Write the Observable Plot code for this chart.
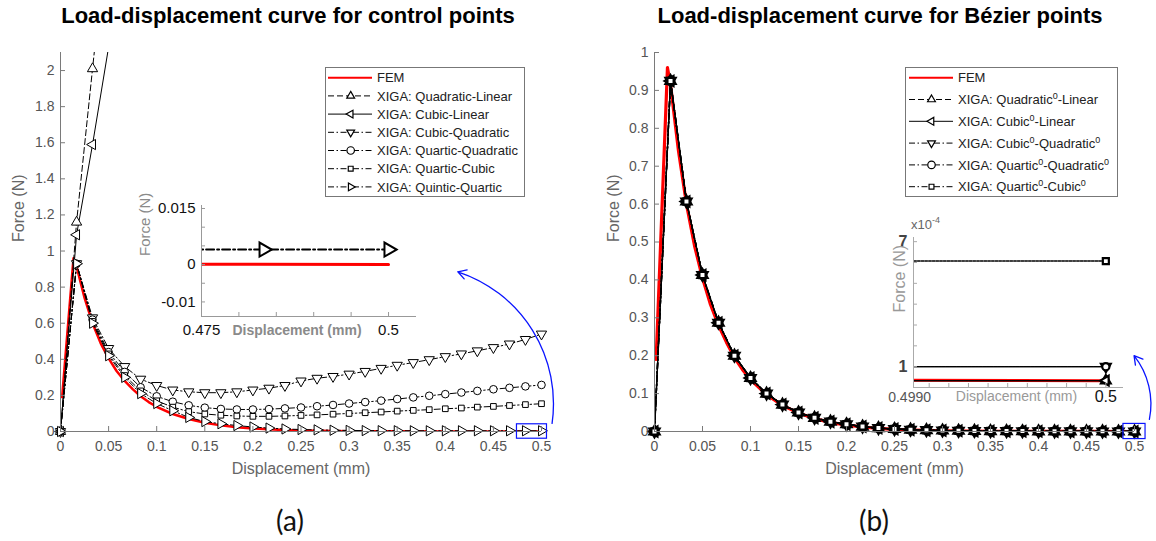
<!DOCTYPE html>
<html><head><meta charset="utf-8">
<script src="https://cdn.jsdelivr.net/npm/d3@7"></script>
<script src="https://cdn.jsdelivr.net/npm/@observablehq/plot@0.6"></script>
<style>
body{margin:0;background:#fff;}
#root{position:relative;width:1156px;height:541px;overflow:hidden;background:#fff;font-family:"Liberation Sans",Arial,sans-serif;}
.title{position:absolute;font-weight:bold;font-size:22px;line-height:22px;color:#000;white-space:nowrap;transform:translateX(-50%);}
.cap{position:absolute;font-family:Lato,"Open Sans",sans-serif;font-size:28px;line-height:28px;color:#111;transform:translateX(-50%);}
</style></head>
<body><div id="root"></div>
<script>
// ---------------- DATA ----------------
const xGrid = [0, 0.0167, 0.0333, 0.05, 0.0667, 0.0833, 0.1, 0.1167, 0.1333, 0.15, 0.1667, 0.1833, 0.2, 0.2167, 0.2333, 0.25, 0.2667, 0.2833, 0.3, 0.3167, 0.3333, 0.35, 0.3667, 0.3833, 0.4, 0.4167, 0.4333, 0.45, 0.4667, 0.4833, 0.5];

const femX = [0.0017, 0.0135, 0.0167, 0.025, 0.0333, 0.0417, 0.05, 0.0583, 0.0667, 0.075, 0.0833, 0.0917, 0.1, 0.1167, 0.1333, 0.15, 0.1667, 0.1833, 0.2, 0.2167, 0.2333, 0.25, 0.2667, 0.2833, 0.3, 0.35, 0.4, 0.45, 0.5];
const femY = [0.19, 0.96, 0.915, 0.74, 0.6, 0.49, 0.405, 0.335, 0.28, 0.235, 0.195, 0.163, 0.137, 0.097, 0.069, 0.049, 0.034, 0.024, 0.017, 0.012, 0.008, 0.0055, 0.004, 0.003, 0.002, 0.0007, 0.0002, 0.0001, 0.000033];

// (a) control points
const cpQuadLin = [0, 1.16, 2.01, 2.85];
const cpCubLin = [0, 1.09, 1.59, 2.13, 2.65];
const cpCubQuad = [0, 0.93, 0.63, 0.46, 0.36, 0.29, 0.255, 0.23, 0.22, 0.215, 0.215, 0.22, 0.23, 0.24, 0.255, 0.28, 0.295, 0.305, 0.318, 0.333, 0.35, 0.367, 0.382, 0.398, 0.415, 0.43, 0.447, 0.465, 0.485, 0.51, 0.54];
const cpQuartQuad = [0, 0.93, 0.62, 0.44, 0.33, 0.245, 0.195, 0.165, 0.145, 0.132, 0.125, 0.122, 0.122, 0.124, 0.128, 0.133, 0.14, 0.147, 0.155, 0.163, 0.171, 0.18, 0.189, 0.198, 0.207, 0.216, 0.225, 0.234, 0.242, 0.25, 0.258];
const cpQuartCub = [0, 0.93, 0.61, 0.43, 0.31, 0.225, 0.17, 0.135, 0.11, 0.097, 0.09, 0.086, 0.084, 0.084, 0.086, 0.089, 0.092, 0.096, 0.1, 0.104, 0.108, 0.113, 0.117, 0.121, 0.126, 0.13, 0.135, 0.139, 0.144, 0.149, 0.154];
const cpQuintQuart = [0, 0.93, 0.6, 0.42, 0.3, 0.21, 0.155, 0.115, 0.078, 0.055, 0.043, 0.033, 0.025, 0.019, 0.014, 0.011, 0.009, 0.007, 0.006, 0.005, 0.0045, 0.0042, 0.004, 0.004, 0.004, 0.004, 0.004, 0.004, 0.004, 0.004, 0.004];

// (b) Bezier points
const bzQuadLin = [0, 0.925, 0.607, 0.413, 0.287, 0.2, 0.141, 0.1, 0.071, 0.05, 0.036, 0.026, 0.019, 0.013, 0.009, 0.0065, 0.0048, 0.0035, 0.0026, 0.0019, 0.0014, 0.001, 0.0008, 0.0006, 0.00045, 0.0003, 0.0002, 0.00012, 0.00006, 0.000033, 0.000033];
const bzCubLin = [0, 0.925, 0.607, 0.413, 0.287, 0.2, 0.141, 0.1, 0.071, 0.05, 0.036, 0.026, 0.019, 0.013, 0.009, 0.0065, 0.0048, 0.0035, 0.0026, 0.0019, 0.0014, 0.001, 0.0008, 0.0006, 0.00045, 0.0003, 0.0002, 0.00012, 0.00006, 0.000033, 0.000033];
const bzCubQuad = [0, 0.925, 0.607, 0.413, 0.287, 0.2, 0.141, 0.1, 0.071, 0.05, 0.036, 0.026, 0.019, 0.013, 0.009, 0.0065, 0.0048, 0.0035, 0.0026, 0.0019, 0.0014, 0.0011, 0.0009, 0.0007, 0.00055, 0.0004, 0.0003, 0.0002, 0.00014, 0.0001, 0.0001];
const bzQuartQuad = [0, 0.925, 0.607, 0.413, 0.287, 0.2, 0.141, 0.1, 0.071, 0.05, 0.036, 0.026, 0.019, 0.013, 0.009, 0.0065, 0.0048, 0.0035, 0.0026, 0.0019, 0.0014, 0.0011, 0.0009, 0.0007, 0.00055, 0.0004, 0.0003, 0.0002, 0.00014, 0.0001, 0.0001];
const bzQuartCub = [0, 0.925, 0.607, 0.413, 0.287, 0.2, 0.141, 0.1, 0.071, 0.05, 0.036, 0.026, 0.019, 0.013, 0.009, 0.0065, 0.0048, 0.0035, 0.0026, 0.0019, 0.0014, 0.0014, 0.0012, 0.0011, 0.001, 0.0009, 0.0008, 0.0007, 0.00064, 0.000607, 0.000607];

const ctrlNames = ["XIGA: Quadratic-Linear", "XIGA: Cubic-Linear", "XIGA: Cubic-Quadratic", "XIGA: Quartic-Quadratic", "XIGA: Quartic-Cubic", "XIGA: Quintic-Quartic"];
const bezNames = ["XIGA: Quadratic^0-Linear", "XIGA: Cubic^0-Linear", "XIGA: Cubic^0-Quadratic^0", "XIGA: Quartic^0-Quadratic^0", "XIGA: Quartic^0-Cubic^0"];
const femName = "FEM";

const xTicksMain = [0, 0.05, 0.1, 0.15, 0.2, 0.25, 0.3, 0.35, 0.4, 0.45, 0.5];
const yTicksA = [0, 0.2, 0.4, 0.6, 0.8, 1, 1.2, 1.4, 1.6, 1.8, 2];
const yTicksB = [0, 0.1, 0.2, 0.3, 0.4, 0.5, 0.6, 0.7, 0.8, 0.9, 1];
const insetAxTicks = [0.475, 0.48, 0.485, 0.49, 0.495, 0.5];
const insetAxLabels = [{v: 0.475, t: "0.475"}, {v: 0.5, t: "0.5"}];
const insetAyTicks = [-0.01, -0.005, 0, 0.005, 0.01, 0.015];
const insetAyLabels = [-0.01, 0, 0.015];
const insetBxTicks = [0.4991, 0.4992, 0.4993, 0.4994, 0.4995, 0.4996, 0.4997, 0.4998, 0.4999, 0.5];
const insetByTicks = [0.0001, 0.0002, 0.0003, 0.0004, 0.0005, 0.0006, 0.0007];
const insetByLabels = [{v: 0.0001, t: "1"}, {v: 0.0007, t: "7"}];

const zoomBoxA = [{x1: 0.4745, x2: 0.5057, y1: -0.04, y2: 0.04}];
const zoomArrowA = [{x1: 0.511, y1: 0.045, x2: 0.413, y2: 0.885}];
const zoomBoxB = [{x1: 0.4885, x2: 0.5115, y1: -0.02, y2: 0.02}];
const zoomArrowB = [{x1: 0.5155, y1: 0.032, x2: 0.4995, y2: 0.2}];

// ---------------- STYLE ----------------
const RED = "#ff0000", BLUE = "#0a14ff", AX = "#7a7a7a", TXT = "#555";
const DD = "6,2.5,1.5,2.5";
const ctrlStyle = [
  {symbol: "triangle", rotate: 0, dash: "6,3"},
  {symbol: "triangle", rotate: -90, dash: null},
  {symbol: "triangle", rotate: 180, dash: DD},
  {symbol: "circle", rotate: 0, dash: DD},
  {symbol: "square", rotate: 0, dash: DD},
  {symbol: "triangle", rotate: 90, dash: DD}
];
const bezStyle = [
  {symbol: "triangle", rotate: 0, dash: "6,3"},
  {symbol: "triangle", rotate: -90, dash: null},
  {symbol: "triangle", rotate: 180, dash: DD},
  {symbol: "circle", rotate: 0, dash: DD},
  {symbol: "square", rotate: 0, dash: DD}
];
const ctrlSeries = [cpQuadLin, cpCubLin, cpCubQuad, cpQuartQuad, cpQuartCub, cpQuintQuart]
  .map((y, i) => ({y, name: ctrlNames[i], ...ctrlStyle[i]}));
const bezSeries = [bzQuadLin, bzCubLin, bzCubQuad, bzQuartQuad, bzQuartCub]
  .map((y, i) => ({y, name: bezNames[i], ...bezStyle[i]}));
const femRows = femX.map((x, i) => ({x, y: femY[i]}));
const rowsOf = ys => ys.map((v, i) => ({x: xGrid[i], y: v}));

const root = document.getElementById("root");
function place(el, left, top) {
  el.style.position = "absolute"; el.style.left = left + "px"; el.style.top = top + "px";
  root.appendChild(el); return el;
}
const baseStyle = {fontFamily: "'Liberation Sans', Arial, sans-serif", fontSize: "14px", color: TXT, background: "transparent", overflow: "visible"};

function seriesMarks(series, o) {
  const m = [];
  for (const s of series) m.push(Plot.line(rowsOf(s.y), {x: "x", y: "y", stroke: "#000", strokeWidth: o.lineW, strokeDasharray: o.dash ? (o.dash(s) ?? undefined) : (s.dash ?? undefined), clip: true}));
  for (const s of series) m.push(Plot.dot(rowsOf(s.y).filter(o.filter), {x: "x", y: "y", symbol: s.symbol, rotate: s.rotate, r: s.symbol === "square" ? o.rs : o.r, stroke: "#000", fill: "#fff", strokeWidth: o.dotW, clip: o.clip}));
  return m;
}

function axesMarks(xT, yT, x0, y0, yLblDx) {
  return [
    Plot.ruleY([y0], {stroke: AX}),
    Plot.ruleX([x0], {stroke: AX}),
    Plot.ruleX(xT, {x: d => d, y1: () => y0, y2: () => y0, insetTop: -5, stroke: AX}),
    Plot.ruleY(yT, {y: d => d, x1: () => x0, x2: () => x0, insetRight: -5, stroke: AX}),
    Plot.axisX({ticks: xT, tickSize: 0, tickPadding: 10, tickFormat: d => String(d), fontSize: 14, label: null}),
    Plot.axisY({ticks: yT, tickSize: 0, tickPadding: 6, tickFormat: d => String(d), fontSize: 14, label: null}),
    Plot.text(["Displacement (mm)"], {text: d => d, frameAnchor: "bottom", dy: 42, fontSize: 16, fill: "#666"}),
    Plot.text(["Force (N)"], {text: d => d, frameAnchor: "left", dx: yLblDx, rotate: -90, fontSize: 16, fill: "#666"})
  ];
}

// ---------------- (a) main ----------------
const plotA = Plot.plot({
  width: 594, height: 490, marginLeft: 60, marginRight: 53, marginTop: 52, marginBottom: 59,
  x: {domain: [0, 0.5]}, y: {domain: [0, 2.1]}, style: baseStyle,
  marks: [
    Plot.line(femRows, {x: "x", y: "y", stroke: RED, strokeWidth: 2.5, clip: true}),
    ...seriesMarks(ctrlSeries, {lineW: 1, r: 3.8, rs: 3.2, dotW: 1, clip: false, filter: d => d.y <= 2.1}),
    ...axesMarks(xTicksMain, yTicksA, 0, 0, -42),
    Plot.rect(zoomBoxA, {x1: "x1", x2: "x2", y1: "y1", y2: "y2", stroke: BLUE, fill: "none", strokeWidth: 1.2}),
    Plot.arrow(zoomArrowA, {x1: "x1", y1: "y1", x2: "x2", y2: "y2", bend: -40, stroke: BLUE, strokeWidth: 1.3, headLength: 11})
  ]
});
place(plotA, 0, 0);

// ---------------- (b) main ----------------
const plotB = Plot.plot({
  width: 562, height: 490, marginLeft: 60, marginRight: 22, marginTop: 52, marginBottom: 59,
  x: {domain: [0, 0.5]}, y: {domain: [0, 1]}, style: baseStyle,
  marks: [
    Plot.line(femRows, {x: "x", y: "y", stroke: RED, strokeWidth: 3.2, clip: true}),
    ...seriesMarks(bezSeries, {lineW: 1.4, r: 3.8, rs: 3.5, dotW: 2.2, clip: false, filter: () => true}),
    ...axesMarks(xTicksMain, yTicksB, 0, 0, -41),
    Plot.rect(zoomBoxB, {x1: "x1", x2: "x2", y1: "y1", y2: "y2", stroke: BLUE, fill: "none", strokeWidth: 1.2}),
    Plot.arrow(zoomArrowB, {x1: "x1", y1: "y1", x2: "x2", y2: "y2", bend: -25, stroke: BLUE, strokeWidth: 1.3, headLength: 11})
  ]
});
place(plotB, 594, 0);

// ---------------- (a) inset ----------------
const iaX = [0.475, 0.50374], iaY = [-0.0139, 0.0158];
const insetA = Plot.plot({
  width: 300, height: 150, marginLeft: 71, marginRight: 14, marginTop: 15, marginBottom: 24,
  x: {domain: iaX, axis: null}, y: {domain: iaY, axis: null}, style: {...baseStyle, color: "#111"},
  marks: [
    Plot.line(femRows, {x: "x", y: "y", stroke: RED, strokeWidth: 3, clip: true}),
    ...seriesMarks(ctrlSeries, {lineW: 2, r: 5.2, rs: 4, dotW: 2, clip: true, filter: () => true, dash: s => s.dash ? "8,3,2,3" : null}),
    Plot.ruleY([iaY[0]], {stroke: "#999"}),
    Plot.ruleX([iaX[0]], {stroke: "#999"}),
    Plot.ruleX(insetAxTicks, {x: d => d, y1: () => iaY[0], y2: () => iaY[0], insetTop: -4, stroke: "#999"}),
    Plot.ruleY(insetAyTicks, {y: d => d, x1: () => iaX[0], x2: () => iaX[0], insetRight: -4, stroke: "#999"}),
    Plot.text(insetAyLabels, {y: d => d, text: d => String(d), frameAnchor: "left", dx: -6, textAnchor: "end", fontSize: 15, fill: "#111"}),
    Plot.text(insetAxLabels, {x: "v", text: "t", frameAnchor: "bottom", dy: 18, fontSize: 15, fill: "#111"}),
    Plot.text(["Displacement (mm)"], {text: d => d, frameAnchor: "bottom", dy: 18, dx: -12, fontSize: 14, fontWeight: "bold", fill: "#8a8a8a"}),
    Plot.text(["Force (N)"], {text: d => d, frameAnchor: "left", dx: -56, dy: -5, rotate: -90, fontSize: 15, fill: "#8a8a8a"})
  ]
});
place(insetA, 130, 190);

// ---------------- (b) inset ----------------
const ibX = [0.49902, 0.50009], ibY = [0, 0.00072];
const insetB = Plot.plot({
  width: 270, height: 215, marginLeft: 33, marginRight: 27, marginTop: 37, marginBottom: 28,
  x: {domain: ibX, axis: null}, y: {domain: ibY, axis: null}, style: {...baseStyle, color: "#444"},
  marks: [
    Plot.line(femRows, {x: "x", y: "y", stroke: RED, strokeWidth: 3, clip: true}),
    ...seriesMarks(bezSeries, {lineW: 1.4, r: 3.6, rs: 3.4, dotW: 2.2, clip: true, filter: () => true, dash: () => "2.5,1.2"}),
    Plot.ruleY([ibY[0]], {stroke: "#aaa"}),
    Plot.ruleX([ibX[0]], {stroke: "#aaa"}),
    Plot.ruleX(insetBxTicks, {x: d => d, y1: () => ibY[0], y2: () => ibY[0], insetTop: -4, stroke: "#aaa"}),
    Plot.ruleY(insetByTicks, {y: d => d, x1: () => ibX[0], x2: () => ibX[0], insetRight: -4, stroke: "#aaa"}),
    Plot.text(insetByLabels, {y: "v", text: "t", frameAnchor: "left", dx: -6, textAnchor: "end", fontSize: 16, fontWeight: "bold", fill: "#444"}),
    Plot.text([{v: 0.499, t: "0.4990"}], {x: "v", text: "t", frameAnchor: "bottom", dy: 14, fontSize: 14, fill: "#555"}),
    Plot.text([{v: 0.5, t: "0.5"}], {x: "v", text: "t", frameAnchor: "bottom", dy: 14, fontSize: 16, fill: "#111"}),
    Plot.text(["Displacement (mm)"], {text: d => d, frameAnchor: "bottom", dy: 13, dx: -2, fontSize: 14, fill: "#999"}),
    Plot.text(["Force (N)"], {text: d => d, frameAnchor: "left", dx: -14, rotate: -90, fontSize: 16, fill: "#999"})
  ]
});
place(insetB, 880, 200);

const sci = document.createElement("div");
sci.innerHTML = 'x10<sup style="font-size:9px;position:relative;top:-1px">-4</sup>';
sci.style.cssText = "font-size:13px;color:#666;line-height:13px;";
place(sci, 911, 215);

// ---------------- legends ----------------
const symType = {triangle: d3.symbolTriangle2 || d3.symbolTriangle, circle: d3.symbolCircle, square: d3.symbolSquare2 || d3.symbolSquare};
function legend(entries, w, h, y0, dy, lx1, lx2, mx, tx) {
  const svg = d3.create("svg").attr("width", w).attr("height", h);
  svg.append("rect").attr("x", 0.5).attr("y", 0.5).attr("width", w - 1).attr("height", h - 1).attr("fill", "#fff").attr("stroke", "#777");
  entries.forEach((e, i) => {
    const y = y0 + i * dy;
    const ln = svg.append("line").attr("x1", lx1).attr("x2", lx2).attr("y1", y).attr("y2", y)
      .attr("stroke", e.color).attr("stroke-width", e.width);
    if (e.dash) ln.attr("stroke-dasharray", e.dash);
    if (e.symbol) svg.append("path").attr("d", d3.symbol(symType[e.symbol], e.symbol === "square" ? 30 : 44)())
      .attr("transform", `translate(${mx},${y}) rotate(${e.rotate})`).attr("fill", "#fff").attr("stroke", "#000").attr("stroke-width", 1.2);
    const t = svg.append("text").attr("x", tx).attr("y", y).attr("dy", "0.36em").attr("font-size", 13)
      .attr("fill", "#222").attr("font-family", "'Liberation Sans', Arial, sans-serif");
    const parts = e.name.split("^0");
    parts.forEach((p, j) => {
      if (j > 0) {
        t.append("tspan").attr("dy", -5).attr("font-size", 9).text("0");
        t.append("tspan").attr("dy", 5).text(p);
      } else t.append("tspan").text(p);
    });
  });
  return svg.node();
}
const femEntry = {name: femName, color: RED, width: 2, dash: null};
place(legend([femEntry, ...ctrlSeries.map(s => ({...s, color: "#000", width: 1}))], 200, 130, 10.7, 18.2, 3, 47, 25.7, 52), 325, 67);
place(legend([femEntry, ...bezSeries.map(s => ({...s, color: "#000", width: 1}))], 213, 130, 10.7, 21.8, 4, 48, 26.5, 53), 905, 67);

// ---------------- titles & captions ----------------
function html(cls, text, cx, top) { const d = document.createElement("div"); d.className = cls; d.textContent = text; d.style.left = cx + "px"; d.style.top = top + "px"; root.appendChild(d); }
html("title", "Load-displacement curve for control points", 288, 5);
html("title", "Load-displacement curve for Bézier points", 880, 5);
html("cap", "(a)", 290, 506);
html("cap", "(b)", 874, 506);
</script></body></html>
